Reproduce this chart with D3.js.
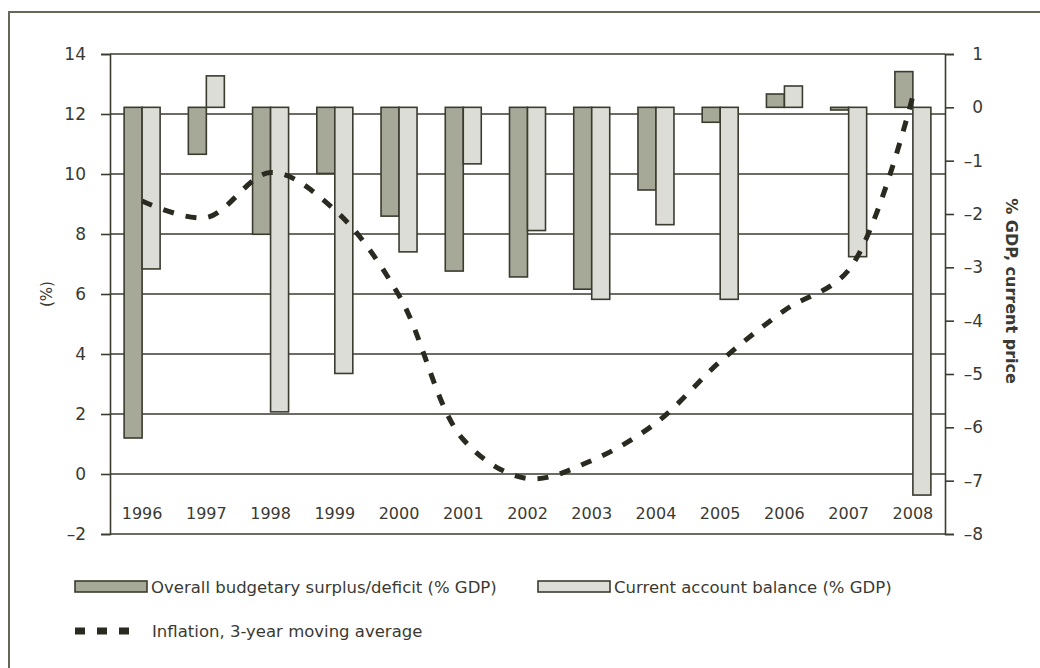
<!DOCTYPE html>
<html>
<head>
<meta charset="utf-8">
<script src="https://cdn.jsdelivr.net/npm/d3@7"></script>
<style>
  html, body { margin: 0; padding: 0; background: #fff; }
  svg { display: block; }
  text { font-family: "DejaVu Sans", sans-serif; fill: #3a3a32; }
</style>
</head>
<body>
<svg id="chart" width="1040" height="668"></svg>
<script>
// Years on the category axis
const years = [1996, 1997, 1998, 1999, 2000, 2001, 2002, 2003, 2004, 2005, 2006, 2007, 2008];
// Overall budgetary surplus/deficit (% GDP) – right axis
const budget = [-6.2, -0.88, -2.38, -1.24, -2.04, -3.07, -3.18, -3.41, -1.55, -0.28, 0.25, -0.05, 0.67];
// Current account balance (% GDP) – right axis
const current = [-3.03, 0.59, -5.71, -4.99, -2.71, -1.06, -2.31, -3.6, -2.2, -3.6, 0.4, -2.8, -7.27];
// Inflation, 3-year moving average (%) – left axis
const inflation = [9.1, 8.55, 10.05, 8.8, 5.95, 1.15, -0.15, 0.45, 1.7, 3.75, 5.45, 6.8, 12.6];
// Tick values
const leftTicks = [-2, 0, 2, 4, 6, 8, 10, 12, 14];
const rightTicks = [-8, -7, -6, -5, -4, -3, -2, -1, 0, 1];

const svg = d3.select("#chart");
const margin = { left: 110, right: 95, top: 54, bottom: 134 };
const W = 1040, H = 668;
const x0 = margin.left, x1 = W - margin.right;   // 110 .. 945
const y0 = margin.top, y1 = H - margin.bottom;   // 54 .. 534

const ink = "#3b3b30";
const darkFill = "#a6a898";
const lightFill = "#dcddd6";

const fmt = d => d < 0 ? "\u2013" + Math.abs(d) : String(d);

// Outer frame (only the top and left edges fall inside the page)
svg.append("rect")
  .attr("x", 9).attr("y", 12).attr("width", 1100).attr("height", 800)
  .attr("fill", "none").attr("stroke", "#66665a").attr("stroke-width", 2);

const x = d3.scaleBand().domain(years).range([x0, x1]).padding(0);
const yL = d3.scaleLinear().domain([-2, 14]).range([y1, y0]);
const yR = d3.scaleLinear().domain([-8, 1]).range([y1, y0]);

// Horizontal gridlines at the left-axis ticks
svg.append("g").selectAll("line").data(leftTicks).join("line")
  .attr("x1", x0).attr("x2", x1)
  .attr("y1", d => yL(d)).attr("y2", d => yL(d))
  .attr("stroke", ink).attr("stroke-width", 1.6);

// Left axis
const gL = svg.append("g").attr("transform", `translate(${x0},0)`)
  .call(d3.axisLeft(yL).tickValues(leftTicks).tickSize(9).tickPadding(15).tickFormat(fmt));
gL.select(".domain").attr("stroke", ink).attr("stroke-width", 1.6);
gL.selectAll(".tick line").attr("stroke", ink).attr("stroke-width", 1.6);
gL.selectAll(".tick text").attr("font-size", 17).attr("fill", "#333").style("font-family", "DejaVu Sans, sans-serif");

// Right axis
const gR = svg.append("g").attr("transform", `translate(${x1},0)`)
  .call(d3.axisRight(yR).tickValues(rightTicks).tickSize(9).tickFormat(fmt));
gR.select(".domain").attr("stroke", ink).attr("stroke-width", 1.6);
gR.selectAll(".tick line").attr("stroke", ink).attr("stroke-width", 1.6);
gR.selectAll(".tick text").attr("font-size", 17).attr("fill", "#333")
  .attr("text-anchor", "end").attr("x", 38)
  .style("font-family", "DejaVu Sans, sans-serif");

// Bars
const barW = 18;
const bars = svg.append("g");
bars.selectAll("rect.budget").data(years).join("rect")
  .attr("class", "budget")
  .attr("x", d => x(d) + x.bandwidth() / 2 - barW)
  .attr("width", barW)
  .attr("y", (d, i) => yR(Math.max(0, budget[i])))
  .attr("height", (d, i) => Math.abs(yR(budget[i]) - yR(0)))
  .attr("fill", darkFill).attr("stroke", ink).attr("stroke-width", 1.6);
bars.selectAll("rect.current").data(years).join("rect")
  .attr("class", "current")
  .attr("x", d => x(d) + x.bandwidth() / 2)
  .attr("width", barW)
  .attr("y", (d, i) => yR(Math.max(0, current[i])))
  .attr("height", (d, i) => Math.abs(yR(current[i]) - yR(0)))
  .attr("fill", lightFill).attr("stroke", ink).attr("stroke-width", 1.6);

// Year labels
svg.append("g").selectAll("text").data(years).join("text")
  .attr("x", d => x(d) + x.bandwidth() / 2)
  .attr("y", 519)
  .attr("text-anchor", "middle")
  .attr("font-size", 16)
  .text(d => d);

// Inflation line (left axis)
const line = d3.line()
  .x((d, i) => x(years[i]) + x.bandwidth() / 2)
  .y(d => yL(d))
  .curve(d3.curveCatmullRom.alpha(0.5));
svg.append("path")
  .attr("d", line(inflation))
  .attr("fill", "none").attr("stroke", "#2a2a20")
  .attr("stroke-width", 5).attr("stroke-dasharray", "11,12");

// Axis titles
svg.append("text")
  .attr("transform", `translate(52,${(y0 + y1) / 2}) rotate(-90)`)
  .attr("text-anchor", "middle").attr("font-size", 15)
  .text("(%)");
svg.append("text")
  .attr("transform", `translate(1006,${(y0 + y1) / 2 - 3}) rotate(90)`)
  .attr("text-anchor", "middle").attr("font-size", 16).attr("font-weight", "bold")
  .text("% GDP, current price");

// Legend
const legend = svg.append("g");
const legendItems = [
  { label: "Overall budgetary surplus/deficit (% GDP)", fill: darkFill, x: 75 },
  { label: "Current account balance (% GDP)", fill: lightFill, x: 538 }
];
legendItems.forEach(it => {
  legend.append("rect").attr("x", it.x).attr("y", 581).attr("width", 72).attr("height", 11)
    .attr("fill", it.fill).attr("stroke", ink).attr("stroke-width", 1.6);
  legend.append("text").attr("x", it.x + 76).attr("y", 593).attr("font-size", 16.5)
    .text(it.label);
});
legend.append("line").attr("x1", 75).attr("x2", 130).attr("y1", 631).attr("y2", 631)
  .attr("stroke", "#2a2a20").attr("stroke-width", 7).attr("stroke-dasharray", "10,12");
legend.append("text").attr("x", 152).attr("y", 637).attr("font-size", 16.5)
  .text("Inflation, 3-year moving average");
</script>
</body>
</html>
